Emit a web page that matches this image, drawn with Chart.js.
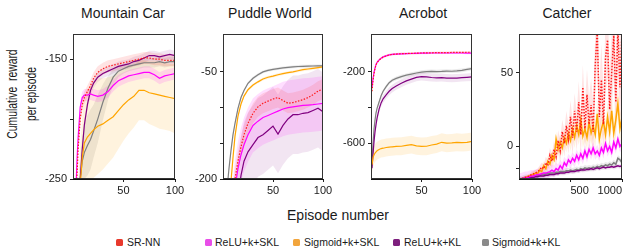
<!DOCTYPE html>
<html>
<head>
<meta charset="utf-8">
<script src="https://cdn.jsdelivr.net/npm/chart.js@4.4.1/dist/chart.umd.min.js"></script>
<style>
  body { margin: 0; width: 626px; height: 250px; overflow: hidden; background: #fff;
         font-family: "Liberation Sans", Arial, sans-serif; color: #1a1a1a; position: relative; }
  canvas { position: absolute; top: 24px; }
  .title { position: absolute; top: 5px; font-size: 14px; line-height: 16px; transform: translateX(-50%); white-space: nowrap; }
  .leg { position: absolute; top: 236px; font-size: 10.5px; line-height: 12px; white-space: nowrap; }
  .mk { position: absolute; top: 238.5px; width: 7px; height: 7px; border-radius: 1.5px; }
</style>
</head>
<body>
<div class="title" style="left:123px">Mountain Car</div>
<div class="title" style="left:270px">Puddle World</div>
<div class="title" style="left:423px">Acrobot</div>
<div class="title" style="left:567px">Catcher</div>

<div style="position:absolute;left:22px;top:94px;width:0;height:0">
  <div style="position:absolute;transform:translate(-50%,-50%) rotate(-90deg) scaleX(0.74);white-space:nowrap;text-align:center;font-size:14px;line-height:19px">Cumulative&nbsp; reward<br>per episode</div>
</div>
<div class="title" style="left:338px;top:207px">Episode number</div>

<canvas id="c1" width="156" height="177" style="left:33px"></canvas>
<canvas id="c2" width="154" height="177" style="left:183px"></canvas>
<canvas id="c3" width="155" height="177" style="left:331px"></canvas>
<canvas id="c4" width="147" height="177" style="left:479px"></canvas>

<div class="mk" style="left:116px;background:#e8392c"></div><div class="leg" style="left:127px">SR-NN</div>
<div class="mk" style="left:205px;background:#e84ee8"></div><div class="leg" style="left:215px">ReLU+k+SKL</div>
<div class="mk" style="left:293px;background:#f2a53c"></div><div class="leg" style="left:304px">Sigmoid+k+SKL</div>
<div class="mk" style="left:393px;background:#7d1f7d"></div><div class="leg" style="left:404px">ReLU+k+KL</div>
<div class="mk" style="left:482px;background:#8a8a8a"></div><div class="leg" style="left:492px">Sigmoid+k+KL</div>

<script>
// series names
const methods = ['SR-NN', 'ReLU+k+SKL', 'Sigmoid+k+SKL', 'ReLU+k+KL', 'Sigmoid+k+KL'];

// episodes for the first three tasks
const episodes = [1, 2, 3, 4, 5, 6, 8, 10, 12, 15, 18, 21, 25, 30, 35, 40, 45, 50, 55, 60, 65, 70, 75, 80, 85, 90, 95, 100];

// Mountain Car
const mcSRNN   = [-300, -290, -275, -260, -245, -225, -200, -188, -182, -177, -172, -166, -161, -158, -156, -155, -154, -153, -152, -151, -150, -149, -149, -150, -150, -151, -151, -151];
const mcReluSKL = [-300, -290, -275, -255, -232, -215, -190, -182, -180, -180, -179, -180, -181, -180, -177, -172, -168, -166, -164, -163, -162, -161, -161, -163, -166, -164, -163, -162];
const mcSigSKL = [-330, -325, -320, -310, -300, -285, -255, -232, -220, -215, -212, -209, -206, -204, -201, -198, -193, -188, -184, -181, -176, -176, -178, -179, -180, -181, -182, -183];
const mcReluKL = [-320, -318, -315, -305, -295, -280, -250, -225, -205, -188, -176, -170, -165, -162, -160, -158, -156, -155, -154, -152, -151, -149, -147, -147, -148, -147, -146, -147];
const mcSigKL  = [-320, -315, -305, -295, -285, -270, -250, -235, -228, -222, -217, -210, -200, -186, -174, -165, -160, -158, -156, -155, -154, -153, -153, -153, -152, -153, -152, -152];
// half widths of the shaded bands
const mcSigSKLBand = [30, 30, 30, 30, 30, 30, 32, 35, 38, 40, 40, 40, 40, 38, 36, 34, 32, 30, 28, 26, 25, 25, 26, 27, 28, 28, 28, 29];
const mcSigKLBand  = [10, 10, 10, 10, 10, 12, 15, 20, 22, 25, 25, 22, 20, 15, 10, 7, 5, 4, 4, 4, 4, 4, 4, 4, 4, 4, 4, 4];

// Puddle World
const pwSRNN   = [-320, -310, -300, -290, -280, -270, -250, -225, -200, -175, -155, -138, -122, -108, -99, -94, -91, -88, -86, -90, -94, -93, -91, -89, -86, -82, -77, -74];
const pwReluSKL = [-340, -330, -320, -310, -300, -290, -270, -240, -212, -185, -166, -152, -138, -125, -119, -114, -111, -108, -105, -102, -100, -99, -98, -97, -96.5, -96, -95, -94];
const pwSigSKL = [-300, -290, -270, -250, -235, -222, -203, -170, -140, -112, -95, -84, -75, -68.5, -64, -60, -57.5, -56, -54, -52.5, -51, -50, -48.5, -47, -46, -45, -44, -43];
const pwReluKL = [-360, -355, -350, -345, -340, -330, -310, -290, -265, -225, -195, -175, -162, -152, -142, -138, -132, -126, -137, -125, -116, -110, -110, -108, -107, -104, -101, -106];
const pwSigKL  = [-280, -260, -240, -220, -200, -185, -160, -138, -122, -101, -86, -76, -66, -59, -54, -50, -48, -46.5, -45.5, -44.5, -43.8, -43, -42.5, -42.2, -42, -41.8, -41.6, -41.6];

// Acrobot
const acSRNN   = [-310, -250, -210, -182, -162, -150, -136, -126, -119, -112, -107, -104, -102, -100, -99, -98, -97, -96, -95, -95, -94, -94, -94, -93, -93, -93, -92, -92];
const acReluSKL = [-290, -240, -205, -180, -160, -148, -135, -125, -118, -112, -107, -104, -102, -101, -100, -99, -98, -97, -97, -96, -96, -96, -96, -96, -96, -96, -97, -97];
const acSigSKL = [-720, -680, -665, -655, -648, -642, -635, -630, -628, -624, -622, -620, -618, -617, -612, -608, -615, -618, -617, -610, -605, -595, -600, -598, -595, -597, -595, -590];
const acReluKL = [-740, -660, -590, -535, -495, -460, -410, -375, -352, -330, -310, -295, -280, -265, -252, -242, -232, -228, -230, -233, -235, -234, -236, -237, -236, -234, -232, -230];
const acSigKL  = [-700, -600, -520, -470, -430, -405, -370, -335, -310, -284, -262, -248, -238, -228, -220, -214, -208, -203, -200, -199, -200, -199, -197, -198, -196, -193, -188, -183];

// Catcher
const catcherEpisodes = [0, 20, 40, 60, 80, 100, 120, 140, 160, 180, 200, 220, 240, 260, 280, 300, 320, 340, 360, 380, 400,
  420, 440, 460, 480, 500, 520, 540, 560, 580, 600, 620, 640, 660, 680, 700, 720, 740, 760, 780, 800,
  820, 840, 860, 880, 900, 920, 940, 960, 980, 1000];
const caSRNN   = [-22, -22, -21.5, -21, -20.5, -20, -19, -18.5, -18, -17, -16, -14, -15, -11, -13, -6, -10, -2, -7, 4, -3,
  10, 2, 14, 5, 20, 6, 24, 10, 30, 8, 40, 12, 35, 15, 28, 10, 55, 78, 20, 45, 15, 60, 72, 25, 50, 75, 30, 80, 40, 78];
const caReluSKL = [-22, -22, -21.5, -21, -21, -20.5, -20, -20, -19.5, -19, -19, -18.5, -18, -18, -17.5, -17, -16, -17, -15, -16, -13,
  -15, -11, -13, -9, -11, -8, -10, -6, -9, -5, -8, -3, -7, -2, -5, -1, -5, -3, -6, -1, -4, 2, -3, 0, -4, 3, -1, 5, 0, 2];
const caSigSKL = [-22, -22, -21.5, -21, -20.5, -20, -19.5, -19, -18, -18.5, -16, -17, -13, -15, -10, -12, -6, -9, 5, -2, 3,
  -1, 6, 2, 9, 4, 12, 6, 14, 8, 18, 7, 12, 6, 16, 9, 14, 8, 22, 5, 12, 17, 8, 20, 10, 24, 9, 18, 29, 12, 20];
const caReluKL = [-22, -22, -22, -21.5, -21.5, -21, -21, -21, -20.5, -20.5, -20, -20, -20, -19.5, -19.5, -19, -19, -19, -18.5, -18.5, -18,
  -18, -18, -17.5, -17.5, -17, -17, -17, -16.5, -16.5, -16, -16, -16, -15.5, -15.5, -15, -15.5, -15, -14.5, -15, -14.5,
  -14, -14.5, -14, -14, -13.5, -14, -13.5, -13, -13.5, -13];
const caSigKL  = [-22, -22, -21.5, -21, -21, -20.5, -20.5, -20, -20, -19.5, -19.5, -19, -19, -18.5, -18.5, -18, -18, -18, -17.5, -17.5, -17,
  -17, -17, -16.5, -16.5, -16, -16.5, -16, -15.5, -16, -15, -15.5, -14.5, -15, -14.5, -15, -14, -14.5, -13.5, -14, -13,
  -13.5, -12.5, -13, -12, -12.5, -11, -12, -8, -9, -11];
const caSRNNBand = [1, 1, 1, 1, 1, 1, 2, 2, 2, 2, 3, 3, 3, 4, 4, 5, 5, 6, 6, 7, 8, 8, 9, 10, 10, 11, 12, 12, 13, 14, 15,
  15, 16, 17, 18, 18, 20, 20, 22, 22, 24, 24, 25, 25, 26, 26, 27, 27, 28, 28, 28];
const caSigSKLBand = [1, 1, 1, 1, 1, 1, 1, 2, 2, 2, 2, 3, 3, 3, 4, 4, 4, 5, 5, 5, 5, 6, 6, 6, 6, 7, 7, 7, 7, 7, 8,
  8, 8, 8, 8, 8, 8, 9, 9, 9, 9, 9, 9, 10, 10, 10, 10, 10, 10, 10, 10];

// tick values (labelled ones listed separately)
const mcYTicks = [-250, -200, -150], mcYLabels = [-250, -150];
const pwYTicks = [-200, -150, -100, -50], pwYLabels = [-200, -50];
const acYTicks = [-600, -400, -200], acYLabels = [-600, -200];
const caYTicks = [-15, 0, 50], caYLabels = [0, 50];
const shortXTicks = [50, 100];
const catcherXTicks = [500, 1000];

const lineColors = ['#ff1a1a', '#ff00ff', '#ffa500', '#800080', '#7f7f7f'];
const bandColors = ['rgba(255,40,40,0.13)', 'rgba(255,0,255,0.13)', 'rgba(255,165,0,0.13)', 'rgba(128,0,128,0.10)', 'rgba(128,128,128,0.16)'];
const FONT = '"Liberation Sans", Arial, sans-serif';

// draws the thin box round the plot area
const frame = {
  id: 'frame',
  afterDraw(chart) {
    const a = chart.chartArea, ctx = chart.ctx;
    ctx.save();
    ctx.strokeStyle = '#333';
    ctx.lineWidth = 1;
    ctx.strokeRect(Math.round(a.left) + 0.5, Math.round(a.top) + 0.5, Math.round(a.right - a.left) - 1, Math.round(a.bottom - a.top) - 1);
    ctx.restore();
  }
};

function makeDatasets(xs, series, bands, lw) {
  const ds = [];
  series.forEach((vals, k) => {
    const b = bands[k];
    const w = i => Array.isArray(b) ? b[i] : b;
    ds.push({ data: vals.map((v, i) => ({ x: xs[i], y: v + w(i) })), borderWidth: 0, borderColor: 'transparent',
              pointRadius: 0, fill: '+1', backgroundColor: bandColors[k], order: 20 });
    ds.push({ data: vals.map((v, i) => ({ x: xs[i], y: v - w(i) })), borderWidth: 0, borderColor: 'transparent',
              pointRadius: 0, fill: false, order: 20 });
  });
  series.forEach((vals, k) => {
    ds.push({ label: methods[k], data: vals.map((v, i) => ({ x: xs[i], y: v })), borderColor: lineColors[k],
              borderWidth: lw, borderDash: k === 0 ? [1.5, 1.5] : [], pointRadius: 0, fill: false, order: k + 1 });
  });
  return ds;
}

// xAlign 'inner' keeps the last label inside the canvas; firstShift pulls the first label back to centre
function makePanel(id, xs, series, bands, xr, yr, xTicks, yTicks, yLabels, padRight, lw, xAlign, firstShift) {
  return new Chart(document.getElementById(id), {
    type: 'line',
    data: { datasets: makeDatasets(xs, series, bands, lw) },
    options: {
      responsive: false,
      animation: false,
      devicePixelRatio: 1,
      layout: { padding: { top: 10, right: padRight, left: 0, bottom: 0 } },
      plugins: { legend: { display: false }, tooltip: { enabled: false } },
      scales: {
        x: {
          type: 'linear', min: xr[0], max: xr[1],
          afterBuildTicks: s => { s.ticks = xTicks.map(v => ({ value: v })); },
          afterFit: s => { s.height = 22; s.paddingLeft = 0; s.paddingRight = 0; },
          grid: { drawOnChartArea: false, tickLength: 3, color: '#222' },
          border: { color: '#111', width: 1 },
          ticks: { font: { size: 11, family: FONT }, color: '#1a1a1a', padding: 2, maxRotation: 0, autoSkip: false,
                   align: xAlign, labelOffset: c => c.index === 0 ? firstShift : 0,
                   format: { useGrouping: false } }
        },
        y: {
          type: 'linear', min: yr[0], max: yr[1],
          afterBuildTicks: s => { s.ticks = yTicks.map(v => ({ value: v })); },
          afterFit: s => { s.width = 40; },
          grid: { drawOnChartArea: false, tickLength: 3, color: '#222' },
          border: { color: '#111', width: 1 },
          ticks: { font: { size: 11, family: FONT }, color: '#1a1a1a', padding: 3, autoSkip: false,
                   callback: v => yLabels.includes(v) ? String(v) : '' }
        }
      }
    },
    plugins: [frame]
  });
}

makePanel('c1', episodes, [mcSRNN, mcReluSKL, mcSigSKL, mcReluKL, mcSigKL], [5, 5, mcSigSKLBand, 4, mcSigKLBand],
  [1, 100], [-250, -129], shortXTicks, mcYTicks, mcYLabels, 14, 1.2, 'center', 0);
makePanel('c2', episodes, [pwSRNN, pwReluSKL, pwSigSKL, pwReluKL, pwSigKL], [14, 38, 2, 55, 2],
  [0, 100], [-200, 3], shortXTicks, pwYTicks, pwYLabels, 14, 1.2, 'center', 0);
makePanel('c3', episodes, [acSRNN, acReluSKL, acSigSKL, acReluKL, acSigKL], [6, 6, 50, 22, 10],
  [0, 100], [-800, 10], shortXTicks, acYTicks, acYLabels, 14, 1.2, 'center', 0);
makePanel('c4', catcherEpisodes, [caSRNN, caReluSKL, caSigSKL, caReluKL, caSigKL], [caSRNNBand, 4, caSigSKLBand, 1.5, 2],
  [0, 1000], [-22, 76], catcherXTicks, caYTicks, caYLabels, 4, 1.5, 'inner', -9);
</script>
</body>
</html>
